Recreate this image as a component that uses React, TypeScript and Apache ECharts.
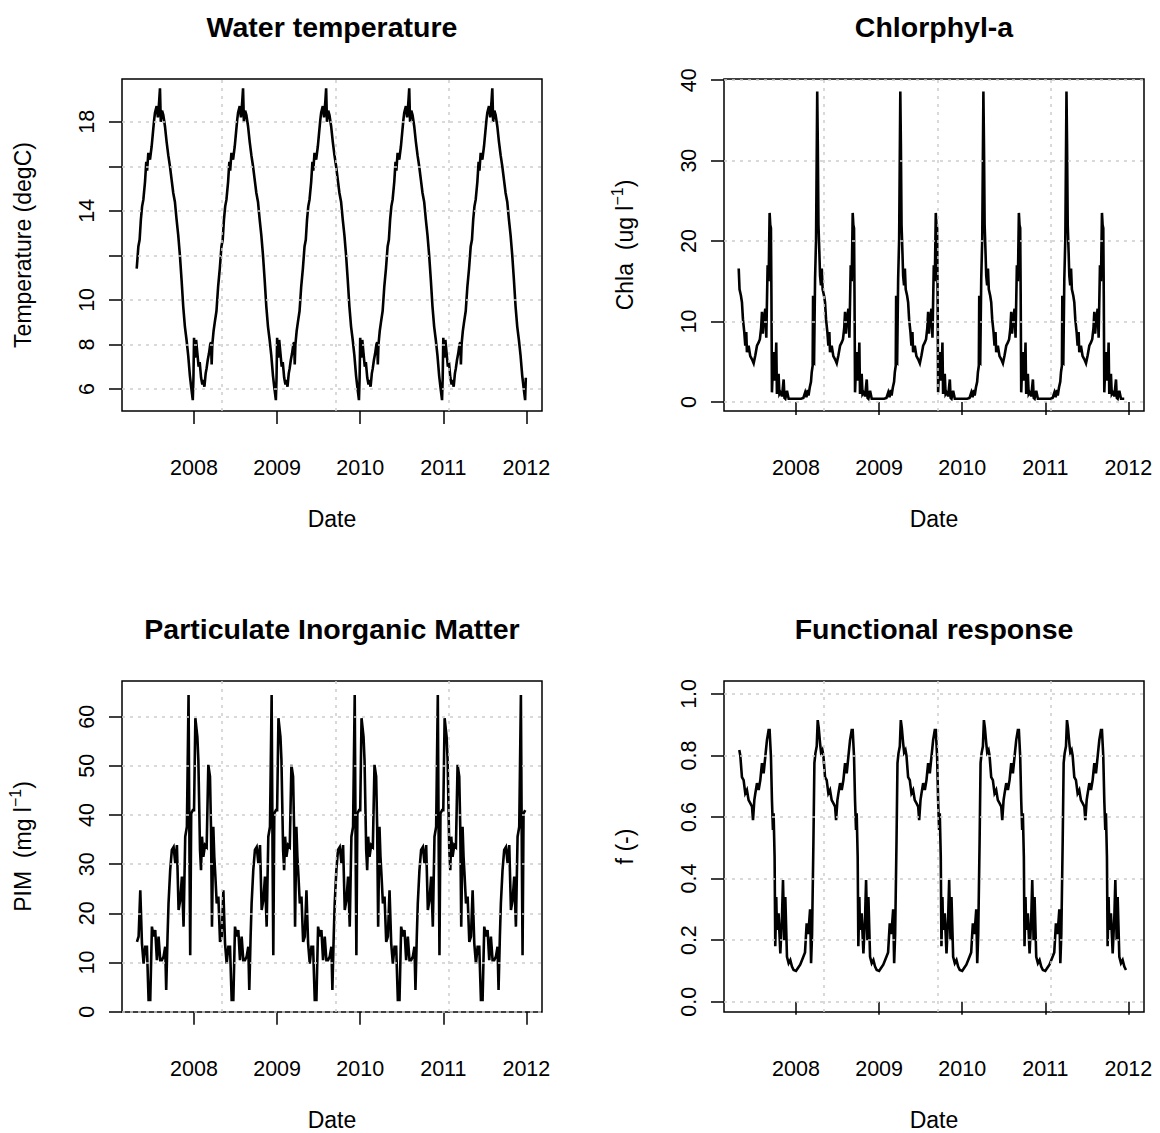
import React, { useEffect, useRef } from "react";
import * as echarts from "echarts";

const FONT = "'Liberation Sans', Arial, Helvetica, sans-serif";

// Calendar years labelled on every time axis
const yearTicks = [2008, 2009, 2010, 2011, 2012];
// grid() guides fall on round day counts since 1970 (14000, 14500, 15000 days)
const dayGuides = [2008.331, 2009.699, 2011.068];

// The forcing repeats one seasonal cycle for each simulated year
const cycleYears = [2007, 2008, 2009, 2010, 2011];
const firstDate = 2007.31;
const lastDate = 2012.0;

// [fraction of year, degC]
const temperatureCycle: [number, number][] = [
  [0.0, 8.3], [0.012, 7.4], [0.025, 8.2], [0.04, 7.6], [0.055, 7.0], [0.068, 7.2],
  [0.085, 6.5], [0.1, 6.2], [0.11, 6.4], [0.125, 6.1], [0.14, 6.7], [0.15, 6.9],
  [0.165, 7.3], [0.18, 7.6], [0.195, 8.0], [0.205, 8.1], [0.212, 7.1], [0.22, 8.0],
  [0.235, 8.6], [0.25, 9.0], [0.27, 9.5], [0.29, 10.6], [0.31, 11.4], [0.33, 12.4],
  [0.345, 12.7], [0.36, 13.6], [0.375, 14.2], [0.39, 14.5], [0.41, 15.3], [0.425, 16.2],
  [0.435, 15.8], [0.45, 16.6], [0.47, 16.3], [0.49, 16.9], [0.505, 17.5], [0.52, 18.1],
  [0.53, 18.4], [0.55, 18.7], [0.565, 18.2], [0.58, 18.9], [0.59, 19.5], [0.6, 18.0],
  [0.615, 18.5], [0.63, 18.3], [0.65, 17.8], [0.67, 17.1], [0.69, 16.5], [0.71, 16.0],
  [0.73, 15.4], [0.75, 14.8], [0.77, 14.4], [0.79, 13.6], [0.81, 12.9], [0.83, 12.0],
  [0.85, 10.9], [0.87, 9.7], [0.89, 8.8], [0.91, 8.2], [0.93, 7.5], [0.95, 6.6],
  [0.965, 6.1], [0.985, 5.5], [0.993, 6.5],
];

// [fraction of year, ug/l]
const chlaCycle: [number, number][] = [
  [0.0, 0.4], [0.06, 0.4], [0.088, 0.5], [0.11, 1.2], [0.125, 0.6], [0.14, 1.5],
  [0.15, 0.8], [0.165, 1.8], [0.18, 2.5], [0.189, 3.7], [0.2, 4.5], [0.205, 13.2],
  [0.209, 5.0], [0.217, 4.9], [0.229, 15.3], [0.241, 20.3], [0.255, 38.6], [0.262, 32.0],
  [0.27, 22.0], [0.281, 18.5], [0.289, 15.7], [0.3, 14.5], [0.31, 16.6], [0.32, 14.0],
  [0.337, 13.2], [0.349, 12.4], [0.361, 10.3], [0.377, 8.7], [0.389, 7.0], [0.401, 8.7],
  [0.409, 6.2], [0.429, 7.0], [0.449, 5.7], [0.47, 5.3], [0.49, 4.8], [0.51, 5.8],
  [0.53, 7.0], [0.55, 7.4], [0.565, 7.8], [0.58, 9.2], [0.59, 11.2], [0.6, 8.5],
  [0.61, 9.9], [0.63, 11.6], [0.642, 8.0], [0.658, 17.0], [0.67, 15.0], [0.682, 23.5],
  [0.69, 22.0], [0.698, 21.6], [0.704, 13.0], [0.71, 1.2], [0.722, 4.5], [0.73, 6.2],
  [0.738, 2.8], [0.75, 2.8], [0.762, 7.4], [0.77, 1.0], [0.778, 2.0], [0.79, 3.5],
  [0.8, 1.0], [0.811, 1.2], [0.831, 0.7], [0.851, 2.8], [0.861, 0.5], [0.871, 0.4],
  [0.891, 1.4], [0.911, 0.4], [0.95, 0.4],
];

// [fraction of year, mg/l]
const pimCycle: [number, number][] = [
  [0.0, 41.0], [0.016, 59.7], [0.04, 55.9], [0.052, 51.2], [0.072, 32.9], [0.084, 28.8],
  [0.096, 35.6], [0.112, 31.5], [0.132, 33.9], [0.152, 33.5], [0.172, 50.2], [0.192, 47.8],
  [0.204, 37.6], [0.216, 17.3], [0.232, 37.6], [0.244, 31.5], [0.257, 27.5], [0.273, 22.0],
  [0.293, 23.4], [0.313, 14.2], [0.333, 15.3], [0.353, 24.7], [0.373, 13.9], [0.393, 9.8],
  [0.413, 13.2], [0.433, 13.2], [0.453, 2.4], [0.473, 2.4], [0.493, 17.3], [0.513, 15.3],
  [0.533, 16.6], [0.553, 10.5], [0.573, 15.3], [0.593, 10.5], [0.613, 10.5], [0.633, 11.2],
  [0.653, 13.2], [0.665, 4.4], [0.681, 15.3], [0.693, 22.0], [0.713, 28.8], [0.733, 32.9],
  [0.754, 33.5], [0.774, 30.2], [0.794, 33.9], [0.814, 20.7], [0.834, 22.7], [0.854, 27.5],
  [0.874, 17.3], [0.894, 35.6], [0.914, 37.6], [0.934, 64.4], [0.946, 30.0], [0.954, 11.5],
  [0.966, 40.3], [0.986, 41.0],
];

// [fraction of year, f (-)]
const responseCycle: [number, number][] = [
  [0.0, 0.1], [0.025, 0.11], [0.05, 0.12], [0.088, 0.146], [0.108, 0.16], [0.128, 0.255],
  [0.148, 0.22], [0.169, 0.3], [0.181, 0.125], [0.193, 0.22], [0.209, 0.515], [0.221, 0.775],
  [0.233, 0.807], [0.249, 0.83], [0.261, 0.915], [0.273, 0.89], [0.289, 0.84], [0.301, 0.81],
  [0.317, 0.818], [0.329, 0.8], [0.349, 0.73], [0.369, 0.72], [0.389, 0.677], [0.409, 0.688],
  [0.429, 0.655], [0.449, 0.645], [0.47, 0.634], [0.482, 0.59], [0.498, 0.655], [0.51, 0.677],
  [0.53, 0.71], [0.55, 0.688], [0.57, 0.72], [0.59, 0.775], [0.61, 0.742], [0.63, 0.796],
  [0.65, 0.85], [0.67, 0.883], [0.682, 0.883], [0.698, 0.796], [0.71, 0.655], [0.722, 0.558],
  [0.73, 0.612], [0.742, 0.47], [0.75, 0.18], [0.762, 0.34], [0.77, 0.233], [0.79, 0.287],
  [0.811, 0.157], [0.831, 0.276], [0.843, 0.395], [0.859, 0.2], [0.871, 0.34], [0.891, 0.146],
  [0.911, 0.125], [0.931, 0.135], [0.951, 0.114], [0.971, 0.103],
];

const temperatureTicks = [6, 8, 10, 12, 14, 16, 18];
const temperatureLabels = [6, 8, 10, 14, 18];
const chlaTicks = [0, 10, 20, 30, 40];
const pimTicks = [0, 10, 20, 30, 40, 50, 60];
const responseTicks = [0, 0.2, 0.4, 0.6, 0.8, 1.0];

function expandCycle(cycle: [number, number][]): [number, number][] {
  const out: [number, number][] = [];
  for (const year of cycleYears) {
    for (const [frac, v] of cycle) {
      const t = year + frac;
      if (t >= firstDate && t <= lastDate) out.push([t, v]);
    }
  }
  return out;
}

const AXIS_FONT = 21.5;
const LAB_FONT = 23;
const TITLE_FONT = 28.5;
const PLOT_W = 420;

type Panel = {
  title: string;
  yTitle: string;
  cycle: [number, number][];
  ticks: number[];
  labels: number[];
  decimals: number;
  yMin: number;
  yMax: number;
  left: number;
  top: number;
  height: number;
};

const panels: Panel[] = [
  {
    title: "Water temperature", yTitle: "Temperature (degC)", cycle: temperatureCycle,
    ticks: temperatureTicks, labels: temperatureLabels, decimals: 0,
    yMin: 5.01, yMax: 19.92, left: 122, top: 79, height: 332,
  },
  {
    title: "Chlorphyl-a", yTitle: "Chla  (ug l{sup|\u22121})", cycle: chlaCycle,
    ticks: chlaTicks, labels: chlaTicks, decimals: 0,
    yMin: -1.12, yMax: 40.15, left: 724, top: 79, height: 332,
  },
  {
    title: "Particulate Inorganic Matter", yTitle: "PIM  (mg l{sup|\u22121})", cycle: pimCycle,
    ticks: pimTicks, labels: pimTicks, decimals: 0,
    yMin: -0.06, yMax: 67.26, left: 122, top: 681, height: 331,
  },
  {
    title: "Functional response", yTitle: "f (-)", cycle: responseCycle,
    ticks: responseTicks, labels: responseTicks, decimals: 1,
    yMin: -0.0335, yMax: 1.042, left: 724, top: 681, height: 331,
  },
];

const guideStyle = { color: "#cdcdcd", type: [3, 5] as number[], width: 1.5 };
const tickStyle = { color: "#000", width: 1.5 };

function buildOption() {
  const grid = panels.map((p) => ({
    left: p.left, top: p.top, width: PLOT_W, height: p.height,
    show: true, borderColor: "#000", borderWidth: 1.5, backgroundColor: "transparent",
  }));

  const xAxis = panels.map((p, i) => ({
    type: "value", gridIndex: i, min: 2007.133, max: 2012.188,
    axisLine: { show: false }, splitLine: { show: false },
    axisTick: { show: true, length: 13, lineStyle: tickStyle, customValues: yearTicks },
    axisLabel: {
      customValues: yearTicks, color: "#000", fontSize: AXIS_FONT, fontFamily: FONT,
      margin: 46, formatter: (v: number) => String(Math.round(v)),
    },
  }));

  const yAxis = panels.map((p, i) => ({
    type: "value", gridIndex: i, min: p.yMin, max: p.yMax,
    axisLine: { show: false }, splitLine: { show: false },
    axisTick: { show: true, length: 13, lineStyle: tickStyle, customValues: p.ticks },
    axisLabel: {
      customValues: p.labels, rotate: 90, color: "#000", fontSize: AXIS_FONT, fontFamily: FONT,
      margin: 24, formatter: (v: number) => v.toFixed(p.decimals),
    },
  }));

  const series = panels.map((p, i) => ({
    type: "line", xAxisIndex: i, yAxisIndex: i, data: expandCycle(p.cycle),
    showSymbol: false, symbol: "none", silent: true,
    lineStyle: { color: "#000", width: 2.6, join: "miter" },
    markLine: {
      silent: true, symbol: "none", label: { show: false }, lineStyle: guideStyle,
      data: [
        ...dayGuides.map((x) => ({ xAxis: x })),
        ...p.ticks.map((y) => ({ yAxis: y })),
      ],
    },
  }));

  const graphic: any[] = [];
  panels.forEach((p) => {
    const cx = p.left + PLOT_W / 2;
    graphic.push({
      type: "text", x: cx, y: p.top - 52,
      style: {
        text: p.title, fill: "#000", fontSize: TITLE_FONT, fontWeight: "bold", fontFamily: FONT,
        align: "center", verticalAlign: "middle",
      },
    });
    graphic.push({
      type: "text", x: cx, y: p.top + p.height + 108,
      style: {
        text: "Date", fill: "#000", fontSize: LAB_FONT, fontFamily: FONT,
        align: "center", verticalAlign: "middle",
      },
    });
    graphic.push({
      type: "text", x: p.left - 99, y: p.top + p.height / 2, rotation: Math.PI / 2,
      style: {
        text: p.yTitle, fill: "#000", fontSize: LAB_FONT, fontFamily: FONT,
        align: "center", verticalAlign: "middle", lineHeight: 32,
        rich: {
          sup: { fontSize: 16, fontFamily: FONT, fill: "#000", verticalAlign: "top", lineHeight: 16 },
        },
      },
    });
  });

  return {
    animation: false,
    backgroundColor: "#fff",
    grid, xAxis, yAxis, series, graphic,
  };
}

export default function App() {
  const ref = useRef<HTMLDivElement>(null);
  useEffect(() => {
    if (!ref.current) return;
    const chart = echarts.init(ref.current, null, { renderer: "svg" });
    chart.setOption(buildOption() as any);
    return () => chart.dispose();
  }, []);
  return (
    <div
      ref={ref}
      style={{ position: "absolute", left: 0, top: 0, width: 1160, height: 1133, background: "#fff" }}
    />
  );
}
